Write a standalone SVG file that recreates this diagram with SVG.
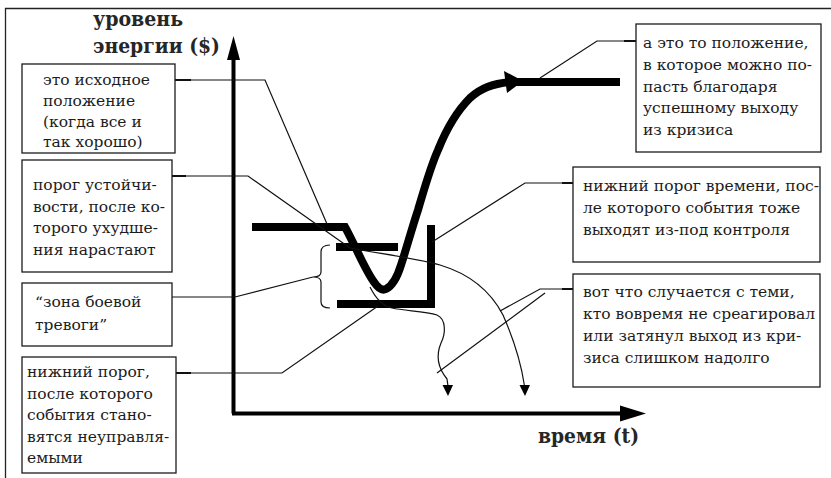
<svg xmlns="http://www.w3.org/2000/svg" width="831" height="478" viewBox="0 0 831 478">
<defs>
<style>
.t{font-family:"DejaVu Serif","Liberation Serif",serif;font-size:15.5px;fill:#1c1c1c}
.b{font-family:"DejaVu Serif","Liberation Serif",serif;font-size:21px;font-weight:bold;fill:#262626}
.box{fill:#fff;stroke:#1c1c1c;stroke-width:1.3}
.ln{fill:none;stroke:#111;stroke-width:1.2}
.stub{fill:none;stroke:#111;stroke-width:2}
.thick{fill:none;stroke:#000;stroke-width:8;stroke-linejoin:miter}
.ax{fill:none;stroke:#000;stroke-width:4}
</style>
</defs>
<rect width="831" height="478" fill="#fff"/>
<g id="frame">
<path d="M5,8.5 H831 M5.5,8 V478" fill="none" stroke="#222" stroke-width="1.3"/>
</g>
<g id="axes">
<path class="ax" d="M233.5,413.5 V58 M232,413.5 H622"/>
<polygon points="233.5,36 227,60 240,60" fill="#000"/>
<polygon points="646,413.5 620,405.5 620,421.5" fill="#000"/>
<text class="b" x="93" y="26" textLength="90" lengthAdjust="spacingAndGlyphs">уровень</text>
<text class="b" x="93" y="53" textLength="127" lengthAdjust="spacingAndGlyphs">энергии ($)</text>
<text class="b" x="538" y="443" textLength="101" lengthAdjust="spacingAndGlyphs">время (t)</text>
</g>
<g id="graph">
<path class="thick" d="M252,227 H345 C355,245 365,270 374,282 C378,288 382,291 386,289 C392,286 397,278 401,265 C406,250 412,228 418,210 C424,190 430,168 438,150 C446,130 456,112 470,98 C481,88 492,84 510,82 L620,82"/>
<polygon points="523,81 504,71 507,93" fill="#000"/>
<path class="thick" d="M336,247 H398" stroke-width="7"/>
<path class="thick" d="M337,304 H431 V225" stroke-width="7"/>
<path class="ln" d="M330,245 Q321,245 321,252 L321,272 Q321,277 313,277 Q321,277 321,282 L321,302 Q321,308 330,308"/>
<path class="ln" d="M350,248 C375,253 415,258 440,265 C470,274 490,290 503,315 C514,340 521,362 524.5,386"/>
<polygon points="525,396 519.5,385 530,385" fill="#000"/>
<path class="ln" d="M370,287 C375,297 382,306 392,308 C405,311 425,311 437,315 C446,319 446,333 441,343 C436,355 438,368 447,379 L448,386"/>
<polygon points="448,396 442.5,385 453,385" fill="#000"/>
</g>
<g id="connectors">
<path class="ln" d="M175,80 H265 L327,224"/>
<path class="ln" d="M172,176 H248 L350,248"/>
<path class="ln" d="M172,297 H235 L313,277"/>
<path class="ln" d="M176,373 H282 L378,306"/>
<path class="ln" d="M636,41 H597 L540,78"/>
<path class="ln" d="M573,183 H525 L432,242"/>
<path class="ln" d="M573,289 H540 L500,311"/>
<path class="ln" d="M545,293 L437,373"/>
<path class="stub" d="M175,80 H191 M172,176 H186 M176,373 H191 M636,41 H624 M573,183 H562 M573,289 H562"/>
</g>
<g id="box-start">
<rect class="box" x="22" y="64" width="153" height="89"/>
<text class="t" x="43" y="85">это исходное</text>
<text class="t" x="43" y="106">положение</text>
<text class="t" x="43" y="127">(когда все и</text>
<text class="t" x="43" y="147">так хорошо)</text>
</g>
<g id="box-threshold">
<rect class="box" x="22" y="160" width="150" height="112"/>
<text class="t" x="33" y="190">порог устойчи-</text>
<text class="t" x="33" y="212">вости, после ко-</text>
<text class="t" x="33" y="233">торого ухудше-</text>
<text class="t" x="33" y="255">ния нарастают</text>
</g>
<g id="box-alarm">
<rect class="box" x="22" y="283" width="150" height="63"/>
<text class="t" x="35" y="307">“зона боевой</text>
<text class="t" x="35" y="330">тревоги”</text>
</g>
<g id="box-lower">
<rect class="box" x="22" y="357" width="154" height="116"/>
<text class="t" x="27" y="377">нижний порог,</text>
<text class="t" x="27" y="399">после которого</text>
<text class="t" x="27" y="420">события стано-</text>
<text class="t" x="27" y="442">вятся неуправля-</text>
<text class="t" x="27" y="463">емыми</text>
</g>
<g id="box-success">
<rect class="box" x="636" y="24" width="185" height="128"/>
<text class="t" x="643" y="48">а это то положение,</text>
<text class="t" x="643" y="70">в которое можно по-</text>
<text class="t" x="643" y="92">пасть благодаря</text>
<text class="t" x="643" y="113">успешному выходу</text>
<text class="t" x="643" y="135">из кризиса</text>
</g>
<g id="box-time">
<rect class="box" x="573" y="167" width="247" height="95"/>
<text class="t" x="583" y="191">нижний порог времени, пос-</text>
<text class="t" x="583" y="213">ле которого события тоже</text>
<text class="t" x="583" y="235">выходят из-под контроля</text>
</g>
<g id="box-late">
<rect class="box" x="573" y="274" width="247" height="113"/>
<text class="t" x="583" y="297">вот что случается с теми,</text>
<text class="t" x="583" y="319">кто вовремя не среагировал</text>
<text class="t" x="583" y="341">или затянул выход из кри-</text>
<text class="t" x="583" y="363">зиса слишком надолго</text>
</g>
</svg>
